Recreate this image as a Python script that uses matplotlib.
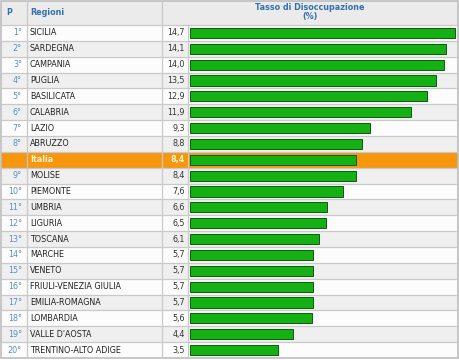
import matplotlib.pyplot as plt
from matplotlib.patches import Rectangle

# data
ranks = ["1°", "2°", "3°", "4°", "5°", "6°", "7°", "8°", "", "9°", "10°",
         "11°", "12°", "13°", "14°", "15°", "16°", "17°", "18°", "19°", "20°"]
regions = ["SICILIA", "SARDEGNA", "CAMPANIA", "PUGLIA", "BASILICATA", "CALABRIA",
           "LAZIO", "ABRUZZO", "Italia", "MOLISE", "PIEMONTE", "UMBRIA", "LIGURIA",
           "TOSCANA", "MARCHE", "VENETO", "FRIULI-VENEZIA GIULIA", "EMILIA-ROMAGNA",
           "LOMBARDIA", "VALLE D'AOSTA", "TRENTINO-ALTO ADIGE"]
rates = [14.7, 14.1, 14.0, 13.5, 12.9, 11.9, 9.3, 8.8, 8.4, 8.4, 7.6,
         6.6, 6.5, 6.1, 5.7, 5.7, 5.7, 5.7, 5.6, 4.4, 3.5]
italia_idx = 8

W, H = 460, 360
head_h = 25
row_h = (358 - head_h) / len(regions)
x_p, x_reg, x_val, x_bar, x_end = 27, 162, 188, 188, 458

fig = plt.figure(figsize=(W / 100, H / 100), dpi=100)
ax = fig.add_axes([0, 0, 1, 1])
ax.set_xlim(0, W)
ax.set_ylim(H, 0)
ax.axis("off")

grid = "#c9c9c9"
blue = "#3470ad"
font = dict(fontsize=5.8, family="DejaVu Sans", va="center")

# header
ax.add_patch(Rectangle((1, 1), x_end - 1, head_h - 1, fc="#ebebeb", ec="none"))
ax.text(6, head_h / 2, "P", color=blue, fontweight="bold", **font)
ax.text(30, head_h / 2, "Regioni", color=blue, fontweight="bold", **font)
ax.text((x_reg + x_end) / 2, head_h / 2, "Tasso di Disoccupazione\n(%)",
        color=blue, fontweight="bold", ha="center", linespacing=1.0, **font)

# rows
for i, (rk, reg, v) in enumerate(zip(ranks, regions, rates)):
    y0 = head_h + i * row_h
    yc = y0 + row_h / 2
    if i == italia_idx:
        bg = "#f7960f"
    elif i % 2 == 1:
        bg = "#efefef"
    else:
        bg = "#fcfcfc"
    ax.add_patch(Rectangle((1, y0), x_end - 1, row_h, fc=bg, ec="none"))
    ax.plot([1, x_end], [y0, y0], color=grid, lw=0.9)
    if i == italia_idx:
        ax.text(30, yc, reg, color="#fff2c4", fontweight="bold", **font)
        ax.text(185, yc, f"{v:.1f}".replace(".", ","), color="#fff2c4",
                fontweight="bold", ha="right", **font)
    else:
        ax.text(22, yc, rk, color="#5b8fc6", ha="right", **font)
        ax.text(30, yc, reg, color="#222222", **font)
        ax.text(185, yc, f"{v:.1f}".replace(".", ","), color="#333333",
                ha="right", **font)

# lines
bottom = head_h + len(regions) * row_h
ax.plot([x_p, x_p], [1, bottom], color=grid, lw=0.9)
ax.plot([x_reg, x_reg], [1, bottom], color=grid, lw=0.9)
ax.plot([x_val, x_val], [head_h, bottom], color=grid, lw=0.9)
ax.add_patch(Rectangle((1, 1), x_end - 1, bottom - 1, fc="none", ec="#bdbdbd", lw=1.2))

# bars
px_unit = 15.8
bar_base = 2.09
bax = fig.add_axes([x_bar / W, (H - bottom) / H, (x_end - x_bar) / W, (bottom - head_h) / H])
bax.patch.set_alpha(0)
x0 = -bar_base - 2 / px_unit
bax.set_xlim(x0, x0 + (x_end - x_bar) / px_unit)
bax.set_ylim(len(regions) - 0.5, -0.5)
bax.axis("off")
ypos = list(range(len(regions)))
bax.barh(ypos, [v + bar_base for v in rates], left=-bar_base, height=0.64,
         color="#14b014", edgecolor="#0c5c0c", linewidth=0.7)

fig.savefig("out.png", dpi=100)
